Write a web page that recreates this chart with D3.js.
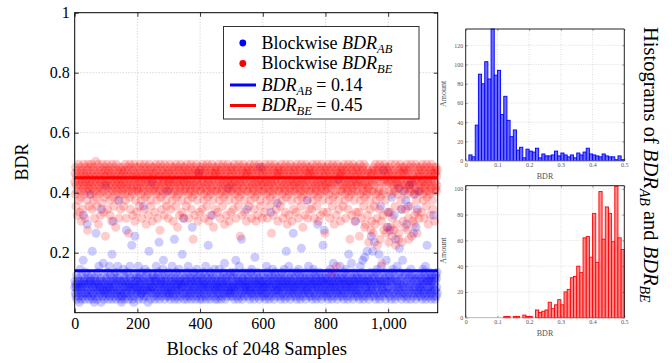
<!DOCTYPE html>
<html><head><meta charset="utf-8">
<script src="https://cdn.jsdelivr.net/npm/d3@7"></script>
<style>body{margin:0;background:#fff}svg{display:block}</style>
</head><body>
<svg id="c" width="672" height="363"></svg>
<script>
// ---- DATA ----
// Blockwise BDR per block, one character per block: position in CODE_ALPHABET = BDR in hundredths.
const CODE_ALPHABET = "0123456789abcdefghijklmnopqrstuvwxyzABCDEFGHIJKLMNOPQRSTUVWXYZ";
const blockwiseAB = [
 "8a6958c47a9b6853a8e7946c8a5hw9a6b48d96a7t5c8694aDb",
 "7a5c96k84a6839b5a7q8c4a69d5f87a86b3y9a578g6a47c9G6",
 "5b8a7d6948af58c7a69j4b8u7a5c698d4a6b7f5a9B7c8a6453",
 "a7958e6ca48b6a9r57d86a4c98f7b5a8m6947a3c85p9a6b8c7",
 "6a8f4b97c5a8696d7a4zb58a7e96c85a7d3b8k6a9748aH6c8b",
 "8c5a7964baf8a6c57d9n486a9b7c5a8e6h9a74b8c6a59E78d6",
 "a5c8649b7a8f6a57c9o4b8a6d7958ac47e9a6b587a9j8c6v4a",
 "9b68a5c74da8f6957b8a6c4a9s7b58da68c47a9e5b86aK7c94",
 "a6c8574b9a8d6a79c5f84a6b98m7c5a84d69b7awc68a5e9748",
 "b7a9c6485a8e6c97a4b85a69d8c7g6a4b859a7c68F9a6c57d8",
 "6a8b5c9748a6d8h7a5c9b48a6f97a5c8o6a4b978d5a6c89a7y",
 "8a5c6b9748a7d6e8a5c96b48ai79a6c58d7a96b48aM7c59a68",
 "a7c8596b48a6f9d7a5c84b96a8x7c5a8e6b94a7dc6895a7Ab8",
 "7a9c6584ba8d6a97c5e8a46b9k8a7c5a8f69b74a8c6d5a9q78",
 "a6b8c5974ad8a6e97c5b4a8l69a7c85b6a9d748ac7B8a6f59b",
 "6a8c597b4a8e6d9a7c58b4a69t8a7c5d8a6b947ac8m6a5r97b",
 "a8c6957b4ad6a89e7c58a4b69g8a7c5a8d6b974ac6I8a5f97b",
 "8a6c597b4a6d8a9e7c58b4a6j98a7c5a8g6b974ad8a6c5u97b",
 "a6c8597b4a8f6a9d7c5hb4a69i8a7c5a8k6b974ac6a8d5p97b",
 "8ka6c5n9b74ad8e6a97c5jb4a6z9f8a7c5a8L6d97b4ah6c8as",
 "6x8a5cr7b4a9Cd6e8a7w5c4bo6a9f87aF5c8l6d9a7y4b6h8c5",
 "9Ea6c8B7t4a5d9z6b8Gc7a4eH6c9b85q7a6D8c4sa9b6y5c7E8",
 "a6c8597b4a8e6d9a7c5fb4a6m8a7c5a8d6b974ac6a8c5w97b4",
 "a7c5b8d6"
];
const blockwiseBE = [
 "HKDMzGJEwLIFNBHxKGMCJuEILHyFKNDGJvMEHIKBLrGNFJzHEM",
 "KGIDNyJFHLBMEvKIGOJCHzLFNEtIKGDMJwHFLAINEKxGJCMHpL",
 "FJHNDyKGLEIMBwJHFKuNGELCIzJMHFKsDNGIELBJHvMFKGyIDL",
 "JGMEHKzFLIDNBJvHGKMFELqIJCNGyHKMFEDwLJIGNHuKBMEJxF",
 "GKIEMHzJFNLDBHvKIGMJEFyNLCHKtIGJMDEwKHNFLBIzGMJEuK",
 "IHMFKJxGENDLBGvMHKIJFErNCLJGyHMKIDEwHNFLJBGzKMEIvH",
 "KFLHNGyJEIMDBKuHGJMLFEzNICKHsGJMDLwFEHNKIBGxJMLEvH",
 "HMJFKEzGNILDBJvKHGMFENyILCKGoHJMDEwFLKNHIBGuJKMExL",
 "GJLEHMyKFNIDBHvJGKMLFEzNCIHKuGJMLDwEFHNKIBGsJMEKyL",
 "KHMEJGxLFNIDBKvHJGMLEFzNICKHtJGMDLwEFHNKIBJuGMELxH",
 "JMGKEHyLFNDIBHvKJGMFLEzNCIKHpGJMDEwLFHNKIBGxJMKEuL",
 "HKJMEGzLFNIDBJvHGKMLFEyNICKHuJGMDLwEFHNKIBGzJMLEvH",
 "KGMJEHxLFNDIBKvHJGMFLEzNCIKHqGJMDEwLFHNKIBGyJMKEuL",
 "HJMKEGzLFNIDBHvKJGMLFExNICKHtJGMDLwEFHNKIBJuGMELyH",
 "JKGMEHxLFNDIBJvHGKMFLEzNCIKHsGJMDEwLFHNKIBGvJMKEyL",
 "HMKJEGyLFNIDBKvHJGMLFEzNICKHuJGMDLwEFHNKIBGxJMLEqH",
 "KGJMEHxLFNDIBHvKJGMFLdzNCIKHtGJMDEwLfHNKIBGyJMKEuL",
 "HJKMEGzLFNIDBJvHGKMLFEyNICKHoJGMDLwEFHNKIBJuGMELxH",
 "JMGKEHxLpNDIBKvHJGMFLEzNCsKHtGJMDEwLFHnKIBGyJrKEuL",
 "HKqMEGzLtNIDBJvHmKMLFEyNoCKHuJgMDLwErHNKIBJqGMsLxH",
 "JKnMEHxLsNDIpKvHJGrFLEzNmIKHtGJMDoqLFHNKIBGynMKEuL",
 "HMKJsGyLFNIDrKvHoGMLFEzNIpKHuJGMDtwEFHNKIBqxJMLEvH",
 "KGJMEHxLFNDIBHvKJGMFLEzNCIKHtGJMDEwLFHNKIBGyJMKEuL",
 "HKFMEJGL"
];
const meanAB = [0.14];
const meanBE = [0.45];
const xTickValues = [0, 200, 400, 600, 800, 1000];
const yTickValues = [0.2, 0.4, 0.6, 0.8, 1];
const legendLabels = [["Blockwise ", "AB", ""], ["Blockwise ", "BE", ""], ["", "AB", " = 0.14"], ["", "BE", " = 0.45"]];
// histogram: 50 bins of width 0.01 from 0 to 0.5
const histBinStart = d3.range(50).map(i => i / 100);
const histAB = [0,6,4,37,90,80,103,85,137,89,94,48,67,42,25,32,11,14,3,12,10,9,13,3,7,5,5,6,10,5,8,6,4,6,3,8,6,9,13,7,6,5,4,7,5,4,4,1,5,1];
const histBE = [0,0,0,0,0,0,0,0,0,0,0,0,1,1,0,1,1,0,2,1,1,0,6,4,5,6,12,7,10,14,10,20,22,31,32,40,35,62,63,47,81,43,98,61,86,81,59,102,62,53];
const histXTicks = [0, 0.1, 0.2, 0.3, 0.4, 0.5];
const histABYTicks = [0, 20, 40, 60, 80, 100, 120];
const histBEYTicks = [0, 20, 40, 60, 80, 100];

// ---- DRAW ----
const serif = "'Liberation Serif','DejaVu Serif',serif";
const svg = d3.select("#c").attr("font-family", serif);
const decode = arr => Array.from(arr.join("")).map((ch, i) => ({ i, v: CODE_ALPHABET.indexOf(ch) / 100 + 0.005 }));
const ptsAB = decode(blockwiseAB), ptsBE = decode(blockwiseBE);

const L = 74.7, R = 437.7, T = 12.7, B = 312.7;
const mx = d3.scaleLinear().domain([0, 1158]).range([L, R]);
const my = d3.scaleLinear().domain([0, 1]).range([B, T]);

// grid
const grid = svg.append("g").attr("stroke", "#b3b3b3").attr("stroke-width", 0.7).attr("stroke-dasharray", "1,2");
grid.selectAll("line.gx").data(xTickValues.filter(d => d > 0)).join("line")
  .attr("x1", d => mx(d)).attr("x2", d => mx(d)).attr("y1", T).attr("y2", B);
grid.selectAll("line.gy").data(yTickValues.filter(d => d < 1)).join("line")
  .attr("y1", d => my(d)).attr("y2", d => my(d)).attr("x1", L).attr("x2", R);

// scatter
svg.append("g").selectAll("circle").data(ptsAB).join("circle")
  .attr("cx", d => mx(d.i)).attr("cy", d => my(d.v)).attr("r", 4.5)
  .attr("fill", "#0000ff").attr("fill-opacity", 0.2);
svg.append("g").selectAll("circle").data(ptsBE).join("circle")
  .attr("cx", d => mx(d.i)).attr("cy", d => my(d.v)).attr("r", 4.5)
  .attr("fill", "#ff0000").attr("fill-opacity", 0.2);

// mean lines
svg.append("g").selectAll("line").data([[meanAB[0], "#0000ff"], [meanBE[0], "#ff0000"]]).join("line")
  .attr("x1", L).attr("x2", R).attr("y1", d => my(d[0])).attr("y2", d => my(d[0]))
  .attr("stroke", d => d[1]).attr("stroke-width", 3);

// axes
function styleAxis(g, fs) {
  g.select(".domain").remove();
  g.selectAll(".tick line").attr("stroke", "#000").attr("stroke-width", 0.8);
  g.selectAll(".tick text").attr("font-family", serif).attr("font-size", fs).attr("fill", "#000");
}
svg.append("g").attr("transform", `translate(0,${B})`)
  .call(d3.axisBottom(mx).tickValues(xTickValues).tickFormat(d3.format(",")).tickSizeInner(-4).tickSizeOuter(0).tickPadding(5))
  .call(g => styleAxis(g, "16px"));
svg.append("g").attr("transform", `translate(0,${T})`)
  .call(d3.axisTop(mx).tickValues(xTickValues).tickFormat("").tickSizeInner(-4).tickSizeOuter(0))
  .call(g => styleAxis(g, "16px"));
svg.append("g").attr("transform", `translate(${L},0)`)
  .call(d3.axisLeft(my).tickValues(yTickValues).tickFormat(d3.format("")).tickSizeInner(-4).tickSizeOuter(0).tickPadding(5))
  .call(g => styleAxis(g, "16px"));
svg.append("g").attr("transform", `translate(${R},0)`)
  .call(d3.axisRight(my).tickValues(yTickValues).tickFormat("").tickSizeInner(-4).tickSizeOuter(0))
  .call(g => styleAxis(g, "16px"));
svg.append("rect").attr("x", L).attr("y", T).attr("width", R - L).attr("height", B - T)
  .attr("fill", "none").attr("stroke", "#000").attr("stroke-width", 1);

// axis labels
svg.append("text").attr("x", (L + R) / 2 + 0.5).attr("y", 355).attr("text-anchor", "middle")
  .attr("font-size", "18.5px").text("Blocks of 2048 Samples");
svg.append("text").attr("transform", "translate(28,162) rotate(-90)").attr("text-anchor", "middle")
  .attr("font-size", "18px").text("BDR");

// BDR with subscript helper
function bdrText(t, pre, sub, post, fs, subfs, shift) {
  if (pre) t.append("tspan").text(pre);
  t.append("tspan").attr("font-style", "italic").text("BDR");
  t.append("tspan").attr("font-style", "italic").attr("font-size", subfs).attr("dy", shift).text(sub);
  if (post) t.append("tspan").attr("dy", -shift).text(post);
  return t;
}

// legend
const lg = svg.append("g");
lg.append("rect").attr("x", 223.5).attr("y", 26.5).attr("width", 195.5).attr("height", 92.5)
  .attr("fill", "#fff").attr("stroke", "#333").attr("stroke-width", 1);
const rowY = [43, 63.5, 85, 105.5];
const legColors = ["#0000ff", "#ff0000", "#0000ff", "#ff0000"];
legendLabels.forEach((lab, k) => {
  if (k < 2) lg.append("circle").attr("cx", 242.8).attr("cy", rowY[k]).attr("r", 3.4).attr("fill", legColors[k]);
  else lg.append("line").attr("x1", 230).attr("x2", 256).attr("y1", rowY[k]).attr("y2", rowY[k])
    .attr("stroke", legColors[k]).attr("stroke-width", 3);
  bdrText(lg.append("text").attr("x", 261.5).attr("y", rowY[k] + 5.5).attr("font-size", "18px"),
    lab[0], lab[1], lab[2], "18px", "12.5px", 4);
});

// histograms
function histogram(y0, y1, counts, ymax, yticks, stroke, fill) {
  const hx = d3.scaleLinear().domain([0, 0.5]).range([465.7, 624.3]);
  const hy = d3.scaleLinear().domain([0, ymax]).range([y1, y0]);
  const g = svg.append("g");
  const gg = g.append("g").attr("stroke", "#c8c8c8").attr("stroke-width", 0.6).attr("stroke-dasharray", "1,1.5");
  gg.selectAll("line.a").data(histXTicks.slice(1, -1)).join("line")
    .attr("x1", d => hx(d)).attr("x2", d => hx(d)).attr("y1", y0).attr("y2", y1);
  gg.selectAll("line.b").data(yticks.slice(1)).join("line")
    .attr("y1", d => hy(d)).attr("y2", d => hy(d)).attr("x1", 465.7).attr("x2", 624.3);
  g.append("g").selectAll("rect").data(histBinStart.map((s, i) => ({ s, c: counts[i] }))).join("rect")
    .attr("x", d => hx(d.s)).attr("width", d => hx(d.s + 0.01) - hx(d.s))
    .attr("y", d => hy(d.c)).attr("height", d => y1 - hy(d.c))
    .attr("fill", fill).attr("stroke", stroke).attr("stroke-width", 0.9);
  const st = ax => {
    ax.select(".domain").remove();
    ax.selectAll(".tick line").attr("stroke", "#444").attr("stroke-width", 0.5);
    ax.selectAll(".tick text").attr("font-family", serif).attr("font-size", "6px").attr("fill", "#555");
  };
  g.append("g").attr("transform", `translate(0,${y1})`)
    .call(d3.axisBottom(hx).tickValues(histXTicks).tickFormat(d3.format("")).tickSizeInner(-2).tickSizeOuter(0).tickPadding(2)).call(st);
  g.append("g").attr("transform", `translate(0,${y0})`)
    .call(d3.axisTop(hx).tickValues(histXTicks).tickFormat("").tickSizeInner(-2).tickSizeOuter(0)).call(st);
  g.append("g").attr("transform", "translate(465.7,0)")
    .call(d3.axisLeft(hy).tickValues(yticks).tickFormat(d3.format("")).tickSizeInner(-2).tickSizeOuter(0).tickPadding(2.5)).call(st);
  g.append("g").attr("transform", "translate(624.3,0)")
    .call(d3.axisRight(hy).tickValues(yticks).tickFormat("").tickSizeInner(-2).tickSizeOuter(0)).call(st);
  g.append("path").attr("d", `M465.7,${y1}V${y0}H624.3V${y1}`).attr("fill", "none").attr("stroke", "#222").attr("stroke-width", 1);
  g.append("line").attr("x1", 465.7).attr("x2", 624.3).attr("y1", y1).attr("y2", y1).attr("stroke", "#888").attr("stroke-width", 0.6);
  g.append("text").attr("x", 545).attr("y", y1 + 18.5).attr("text-anchor", "middle").attr("font-size", "8px").attr("fill", "#555").text("BDR");
  g.append("text").attr("transform", `translate(445.5,${(y0 + y1) / 2 - 1}) rotate(-90)`).attr("text-anchor", "middle")
    .attr("font-size", "8px").attr("fill", "#555").text("Amount");
}
histogram(29, 160.7, histAB, 137, histABYTicks, "#0000ff", "#6b6bff");
histogram(185.7, 317.7, histBE, 102.5, histBEYTicks, "#ff0000", "#ff8c8c");

// right title
bdrText(svg.append("text").attr("transform", "translate(644,27) rotate(90)").attr("font-size", "20.5px"),
  "Histograms of ", "AB", " and ", "20.5px", "14px", 4.5)
  .call(t => { t.append("tspan").attr("font-style", "italic").text("BDR");
               t.append("tspan").attr("font-style", "italic").attr("font-size", "14px").attr("dy", 4.5).text("BE"); });
</script>
</body></html>
